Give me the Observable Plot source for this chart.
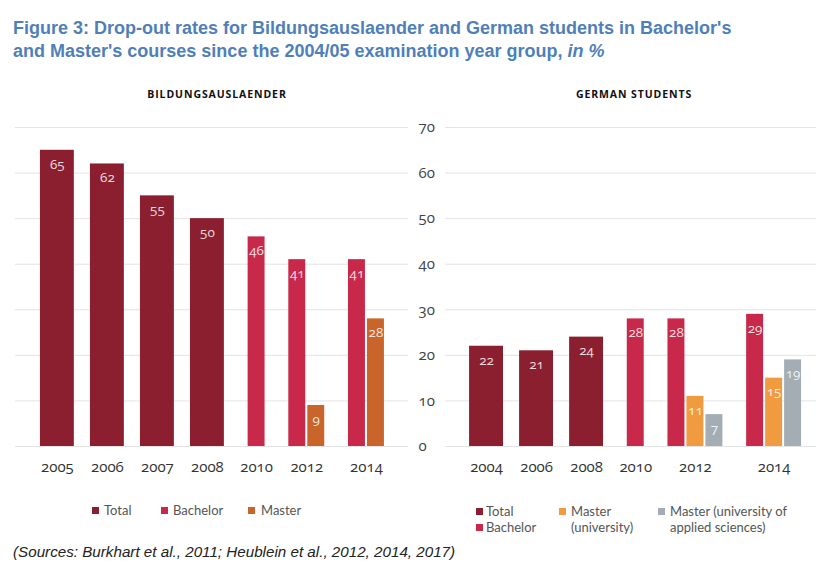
<!DOCTYPE html>
<html>
<head>
<meta charset="utf-8">
<script src="https://cdn.jsdelivr.net/npm/d3@7"></script>
<script src="https://cdn.jsdelivr.net/npm/@observablehq/plot@0.6"></script>
<style>
  html, body { margin: 0; padding: 0; background: #fff; }
  #root { position: relative; width: 839px; height: 581px; overflow: hidden; background: #fff; }
  .abs { position: absolute; white-space: nowrap; }
  .title { left: 13px; top: 17px; font-family: "Liberation Sans", Arial, sans-serif; font-weight: bold; font-size: 18px; line-height: 23px; color: #4f7fb9; }
  .sec { font-family: "Open Sans", sans-serif; font-weight: 700; font-size: 10.5px; letter-spacing: 0.9px; color: #111; transform: translate(-50%, -50%); }
  .leg { font-family: Lato, "Open Sans", sans-serif; font-size: 13px; color: #555; line-height: 16px; }
  .sq { position: absolute; width: 7px; height: 7px; }
  .src { left: 13px; top: 543px; font-family: "Liberation Sans", Arial, sans-serif; font-style: italic; font-size: 15.2px; color: #222; }
  svg { font-variant-numeric: oldstyle-nums; font-feature-settings: "onum" 1; }
  .panel { position: absolute; top: 105px; }
</style>
</head>
<body>
<div id="root">
  <div class="abs title">Figure 3: Drop-out rates for Bildungsauslaender and German students in Bachelor's<br>and Master's courses since the 2004/05 examination year group, <i>in %</i></div>
  <div class="abs sec" style="left:217px; top:94px;">BILDUNGSAUSLAENDER</div>
  <div class="abs sec" style="left:634px; top:94px;">GERMAN STUDENTS</div>
  <div id="left" class="panel" style="left:0px;"></div>
  <div id="right" class="panel" style="left:410px;"></div>
  <div id="legends"></div>
  <div class="abs src">(Sources: Burkhart et al., 2011; Heublein et al., 2012, 2014, 2017)</div>
</div>
<script>
// ---- Data ----
const leftYears = ["2005", "2006", "2007", "2008", "2010", "2012", "2014"];
const leftTotal = [65, 62, 55, 50, null, null, null];
const leftBachelor = [null, null, null, null, 46, 41, 41];
const leftMaster = [null, null, null, null, null, 9, 28];

const rightYears = ["2004", "2006", "2008", "2010", "2012", "2014"];
const rightTotal = [22, 21, 24, null, null, null];
const rightBachelor = [null, null, null, 28, 28, 29];
const rightMasterUni = [null, null, null, null, 11, 15];
const rightMasterUAS = [null, null, null, null, 7, 19];

const yTicks = [0, 10, 20, 30, 40, 50, 60, 70];

const leftSeries = [
  {name: "Total", values: leftTotal, color: "#8b1e2f"},
  {name: "Bachelor", values: leftBachelor, color: "#c8294a"},
  {name: "Master", values: leftMaster, color: "#c9652b"}
];
const rightSeries = [
  {name: "Total", values: rightTotal, color: "#8b1e2f"},
  {name: "Bachelor", values: rightBachelor, color: "#c8294a"},
  {name: "Master (university)", values: rightMasterUni, color: "#f09b40"},
  {name: "Master (university of applied sciences)", values: rightMasterUAS, color: "#a4adb4"}
];

function layout(years, series) {
  const bars = [], groups = [];
  let cursor = 0, prevAllTotal = null;
  years.forEach((yr, i) => {
    const present = series.filter(s => s.values[i] != null);
    const allTotal = present.every(s => s.name === "Total");
    if (i > 0) cursor += (allTotal && prevAllTotal) ? 0.95 : 1.4;
    const start = cursor;
    present.forEach((s, j) => {
      const w = s.name === "Total" ? 2 : 1;
      if (j > 0) cursor += 0.12;
      bars.push({year: yr, series: s.name, value: s.values[i], x1: cursor, x2: cursor + w});
      cursor += w;
    });
    groups.push({year: yr, center: (start + cursor) / 2});
    prevAllTotal = allTotal;
  });
  return {bars, groups, span: cursor};
}

function panel({years, series, width, marginLeft, marginRight, padL, padR, yAxis}) {
  const {bars, groups, span} = layout(years, series);
  const marks = [
    Plot.ruleY(yTicks, {stroke: "#e3e3e3", strokeWidth: 1}),
    Plot.rectY(bars, {x1: "x1", x2: "x2", y: "value", fill: "series"}),
    Plot.text(bars, {x: d => (d.x1 + d.x2) / 2, y: "value", text: d => String(d.value), dy: 14, fill: "#fff", fillOpacity: 0.85, fontSize: 13.5}),
    Plot.text(groups, {x: "center", text: "year", frameAnchor: "bottom", dy: 25, fill: "#333", fontSize: 15})
  ];
  if (yAxis) {
    marks.push(Plot.text(yTicks, {y: d => d, text: d => String(d), frameAnchor: "left", textAnchor: "start", dx: -27, fill: "#444", fontSize: 15}));
  }
  return Plot.plot({
    width, height: 385,
    marginTop: 22, marginBottom: 44, marginLeft, marginRight,
    style: {fontFamily: "'Open Sans', sans-serif", background: "transparent", overflow: "visible"},
    x: {domain: [-padL, span + padR], axis: null},
    y: {domain: [0, 70], axis: null},
    color: {domain: series.map(s => s.name), range: series.map(s => s.color)},
    marks
  });
}

document.getElementById("left").append(panel({
  years: leftYears, series: leftSeries, width: 410, marginLeft: 15, marginRight: 2,
  padL: 1.47, padR: 1.42, yAxis: false
}));
document.getElementById("right").append(panel({
  years: rightYears, series: rightSeries, width: 429, marginLeft: 35, marginRight: 23,
  padL: 1.42, padR: 0.88, yAxis: true
}));

// ---- Legends ----
const legendItems = [
  {series: leftSeries[0], lines: ["Total"], sx: 92, tx: 104, y: 510},
  {series: leftSeries[1], lines: ["Bachelor"], sx: 161, tx: 173, y: 510},
  {series: leftSeries[2], lines: ["Master"], sx: 248, tx: 261, y: 510},
  {series: rightSeries[0], lines: ["Total"], sx: 476, tx: 486, y: 511},
  {series: rightSeries[1], lines: ["Bachelor"], sx: 476, tx: 486, y: 527},
  {series: rightSeries[2], lines: ["Master", "(university)"], sx: 559, tx: 571, y: 511},
  {series: rightSeries[3], lines: ["Master (university of", "applied sciences)"], sx: 658, tx: 670, y: 511}
];
const lg = document.getElementById("legends");
for (const it of legendItems) {
  const sq = document.createElement("div");
  sq.className = "sq";
  sq.style.left = it.sx + "px";
  sq.style.top = (it.y - 3.5) + "px";
  sq.style.background = it.series.color;
  lg.append(sq);
  const t = document.createElement("div");
  t.className = "abs leg";
  t.style.left = it.tx + "px";
  t.style.top = (it.y - 8) + "px";
  t.innerHTML = it.lines.join("<br>");
  lg.append(t);
}
</script>
</body>
</html>
